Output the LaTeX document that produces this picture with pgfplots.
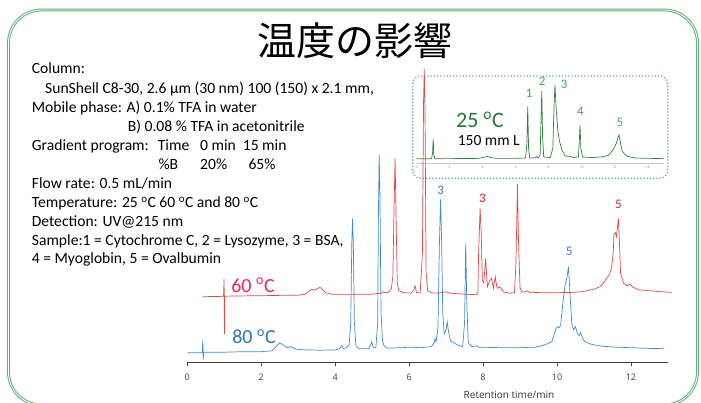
\documentclass[border=0pt]{standalone}
\usepackage{pgfplots}
\pgfplotsset{compat=1.18}
\usepackage{fontspec}
\setmainfont{Carlito}
\newfontfamily\cjk{Noto Sans CJK JP}
\newfontfamily\axfont{Open Sans}

\definecolor{frameGreen}{RGB}{88,180,120}
\definecolor{traceBlue}{RGB}{66,138,200}
\definecolor{traceRed}{RGB}{226,72,72}
\definecolor{traceGreen}{RGB}{50,128,60}
\definecolor{labBlue}{RGB}{68,114,196}
\definecolor{labRed}{RGB}{232,32,40}
\definecolor{labGreen}{RGB}{64,164,96}
\definecolor{darkGreen}{RGB}{34,120,56}
\definecolor{tempRed}{RGB}{230,40,100}
\definecolor{tempBlue}{RGB}{46,117,182}
\definecolor{boxBlue}{RGB}{91,155,213}

\begin{document}
\begin{tikzpicture}[x=1pt,y=1pt]
\path[use as bounding box] (0,0) rectangle (701,403);

% slide frame
\draw[frameGreen, line width=1pt, double=white, double distance=0.9pt, rounded corners=33pt]
  (8.5,-2) rectangle (697.5,393);

% title
\node[font=\cjk\fontsize{39}{44}\selectfont] at (355,362.2) {温度の影響};

% method description
\begin{scope}[every node/.style={anchor=base west, inner sep=0pt, font=\fontsize{15.6}{18}\selectfont}]
\node at (31.7,329)   {Column:};
\node at (45,309.7)   {SunShell C8-30, 2.6 µm (30 nm) 100 (150) x 2.1 mm,};
\node at (31.7,290.7) {Mobile phase: A) 0.1\% TFA in water};
\node at (127.7,271.7){B) 0.08 \% TFA in acetonitrile};
\node at (31.7,252.7) {Gradient program:};
\node at (157.7,252.7){Time};
\node at (200,252.7)  {0 min};
\node at (242.7,252.7){15 min};
\node at (158.3,233.7){\%B};
\node at (200,233.7)  {20\%};
\node at (248.3,233.7){65\%};
\node at (31.7,214.7) {Flow rate: 0.5 mL/min};
\node at (31.7,195.7) {Temperature: 25 \textsuperscript{o}C 60 \textsuperscript{o}C and 80 \textsuperscript{o}C};
\node at (31.7,176.7) {Detection: UV@215 nm};
\node at (31.7,157.7) {Sample:1 = Cytochrome C, 2 = Lysozyme, 3 = BSA,};
\node at (31.7,139)   {4 = Myoglobin, 5 = Ovalbumin};
\end{scope}

% inset frame (25 C, 150 mm column)
\draw[boxBlue, line width=1.2pt, dotted, rounded corners=8pt] (412.7,224.7) rectangle (667.7,327);

\begin{axis}[
  at={(416.7pt,240pt)}, anchor=south west, scale only axis,
  width=247.5pt, height=80pt,
  xmin=0, xmax=15, ymin=0, ymax=80,
  axis x line*=bottom, axis y line=none,
  x axis line style={gray!45, line width=0.4pt},
  xtick={0,2,...,14}, tick align=outside, major tick length=1.5pt,
  tick style={gray!60, line width=0.3pt},
  xticklabel style={font=\axfont\fontsize{3.5}{4}\selectfont, text=gray, inner sep=1pt},
  /pgf/number format/assume math mode=true,
  clip=false,
]
\addplot[traceGreen, line width=0.7pt] coordinates {
(0,4.3) (0.90,4.3) (0.96,10) (1.00,23.7) (1.04,8) (1.10,4.3) (3.60,4.5) (3.90,5)
(4.10,6) (4.28,6.5) (4.50,5.5) (4.80,4.6) (6.00,4.6) (6.60,5) (6.68,20) (6.73,56.3)
(6.78,15) (6.85,5) (7.15,5) (7.27,6.5) (7.35,5) (7.48,8) (7.53,40) (7.58,72.3)
(7.63,25) (7.70,6) (8.10,5.5) (8.25,15) (8.33,60) (8.38,78) (8.45,55) (8.55,33)
(8.65,22) (8.80,13) (9.00,7) (9.30,6.5) (9.50,5.5) (9.80,6) (9.85,20) (9.90,38)
(9.95,15) (10.05,6) (10.60,5.5) (11.20,6) (11.60,7.5) (11.90,13) (12.10,19.7)
(12.20,26) (12.26,28) (12.33,22) (12.45,12) (12.70,7) (13.20,5) (15.00,4.3)
};
\begin{scope}[every node/.style={text=labGreen, font=\fontsize{13}{14}\selectfont}]
\node at (axis cs:6.81,69.7) {1};
\node at (axis cs:7.61,81.3) {2};
\node at (axis cs:8.93,78.7) {3};
\node at (axis cs:9.92,51.3) {4};
\node at (axis cs:12.32,40.3) {5};
\end{scope}
\end{axis}
\node[text=darkGreen, font=\fontsize{22}{24}\selectfont] at (480,283) {25 \textsuperscript{o}C};
\node[font=\fontsize{15.5}{17}\selectfont] at (488.8,262) {150 mm L};

% main chromatograms (60 C and 80 C, 100 mm column)
\begin{axis}[
  at={(187.3pt,40.3pt)}, anchor=south west, scale only axis,
  width=480.6pt, height=300pt,
  xmin=0, xmax=13, ymin=0, ymax=300,
  axis x line*=bottom, axis y line=none,
  x axis line style={black!75, line width=0.6pt},
  xtick={0,2,...,12}, tick align=outside, major tick length=3.5pt,
  tick style={black!75, line width=0.6pt},
  xticklabel style={font=\axfont\fontsize{9}{10}\selectfont, text=black!75, yshift=-4pt},
  /pgf/number format/assume math mode=true,
  clip=false,
]
% 80 C
\addplot[traceBlue, line width=0.7pt] coordinates {
(0.00,10) (0.30,10) (0.40,10) (0.41,16) (0.42,22) (0.43,3) (0.44,9) (0.46,10.5)
(1.00,10.5) (1.50,11) (2.00,11) (2.30,12) (2.42,17) (2.50,20) (2.58,18) (2.70,15)
(2.80,16) (2.95,13.5) (3.20,12.8) (3.60,12.5) (4.00,12.8) (4.12,14) (4.18,17)
(4.22,14) (4.30,15) (4.38,18) (4.42,40) (4.45,120) (4.47,143.7) (4.49,120)
(4.52,40) (4.56,17) (4.65,14) (4.90,14) (4.95,17) (4.99,21) (5.03,15) (5.10,15)
(5.15,40) (5.17,150) (5.19,207.7) (5.21,170) (5.24,50) (5.28,22) (5.32,17)
(5.40,14.5) (5.80,15) (6.00,15.5) (6.30,15) (6.60,16) (6.68,20) (6.70,24)
(6.73,21) (6.78,35) (6.82,120) (6.85,163.4) (6.88,120) (6.91,50) (6.95,28.7)
(7.00,33) (7.03,41) (7.07,30) (7.12,22) (7.20,20) (7.30,18) (7.45,16) (7.50,40)
(7.53,119.4) (7.56,60) (7.60,20) (7.70,16) (7.82,17) (7.90,15.5) (8.50,15)
(9.00,15) (9.40,15.5) (9.60,17) (9.75,19) (9.86,21) (9.92,28) (9.97,34)
(10.01,36) (10.06,35) (10.10,37.7) (10.16,60) (10.22,77.7) (10.27,85) (10.31,96)
(10.35,70) (10.40,39) (10.45,33) (10.50,36) (10.55,29.7) (10.60,27) (10.64,30)
(10.70,24) (10.75,21) (10.90,18.7) (11.20,16.5) (11.60,15.5) (12.00,15)
(12.50,14.3) (12.90,14)
};
% 60 C
\addplot[traceRed, line width=0.7pt] coordinates {
(0.42,66) (0.90,66.3) (0.98,66.5) (0.995,83.7) (1.005,28.7) (1.01,66.5)
(1.50,66.8) (2.00,67) (2.50,67.3) (3.00,67.5) (3.20,68.5) (3.30,72) (3.37,73.4)
(3.45,72.5) (3.59,75.4) (3.66,73) (3.75,70) (3.90,68.5) (4.20,68.3) (4.60,68.4)
(5.00,68.5) (5.25,69.5) (5.30,71) (5.35,70) (5.45,70.5) (5.52,74) (5.56,86)
(5.59,150) (5.62,204.4) (5.65,140) (5.68,80) (5.72,72) (5.85,70) (6.05,69.5)
(6.12,72) (6.16,77) (6.20,70) (6.30,70) (6.36,110) (6.39,260) (6.41,293.7)
(6.43,250) (6.46,90) (6.50,72) (6.60,70) (6.80,69.5) (7.00,71) (7.10,69.5)
(7.50,68.5) (7.80,68) (7.86,70) (7.88,110) (7.92,154.4) (7.95,130) (7.98,82.7)
(8.02,80) (8.07,104.4) (8.10,85) (8.12,76) (8.18,82) (8.23,84.4) (8.28,74.4)
(8.33,86) (8.37,76) (8.40,74.4) (8.45,76) (8.55,71) (8.70,69.5) (8.85,70)
(8.89,100) (8.93,178.7) (8.96,120) (9.00,75) (9.05,70.5) (9.15,71) (9.20,72)
(9.25,70.5) (9.60,70) (10.00,70) (10.40,70.3) (10.70,71) (10.89,72.7) (11.00,73.5)
(11.16,76) (11.25,79) (11.34,84.4) (11.42,88) (11.48,96) (11.52,110) (11.54,127.7)
(11.58,130) (11.61,126) (11.66,144.4) (11.69,120) (11.72,89.4) (11.80,79.4)
(11.90,77) (11.97,78.4) (12.05,75.5) (12.20,73) (12.50,72) (12.80,71) (13.10,70.4)
};
\node[text=labBlue, font=\fontsize{13}{14}\selectfont] at (axis cs:6.85,172) {3};
\node[text=labRed,  font=\fontsize{13}{14}\selectfont] at (axis cs:7.98,164.4) {3};
\node[text=labBlue, font=\fontsize{13}{14}\selectfont] at (axis cs:10.33,111) {5};
\node[text=labRed,  font=\fontsize{13}{14}\selectfont] at (axis cs:11.66,158.4) {5};
\end{axis}

\node[text=tempRed,  font=\fontsize{20}{22}\selectfont] at (253,118)  {60 \textsuperscript{o}C};
\node[text=tempBlue, font=\fontsize{20}{22}\selectfont] at (254,66.3) {80 \textsuperscript{o}C};
\node[text=black!80, font=\axfont\fontsize{10}{12}\selectfont] at (509,8) {Retention time/min};
\end{tikzpicture}
\end{document}
